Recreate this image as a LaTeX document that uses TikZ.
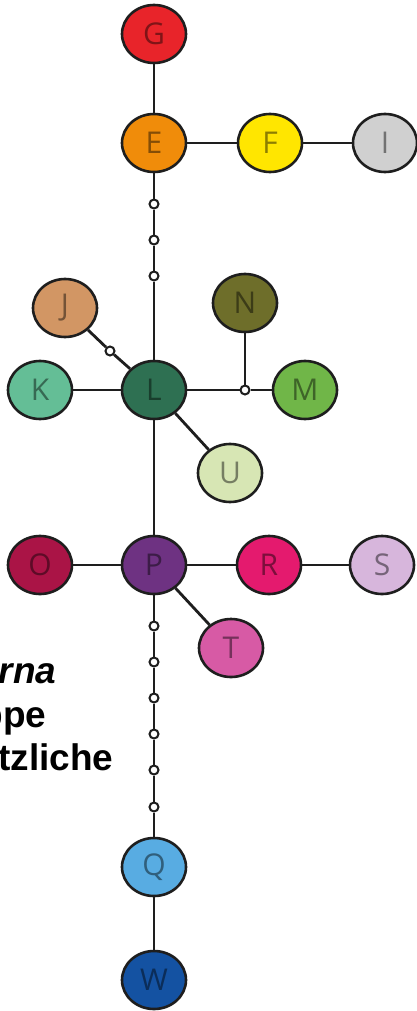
\documentclass[tikz,border=0pt]{standalone}
\usepackage{fontspec}
\setmainfont{Liberation Sans}
\newfontfamily\letterfont{Open Sans}
\usetikzlibrary{shapes.geometric}
\definecolor{cG}{RGB}{232,36,42}
\definecolor{cE}{RGB}{240,140,10}
\definecolor{cF}{RGB}{255,230,0}
\definecolor{cI}{RGB}{208,208,208}
\definecolor{cN}{RGB}{110,110,42}
\definecolor{cJ}{RGB}{210,150,100}
\definecolor{cK}{RGB}{100,190,150}
\definecolor{cL}{RGB}{46,112,82}
\definecolor{cM}{RGB}{112,182,72}
\definecolor{cU}{RGB}{215,230,180}
\definecolor{cO}{RGB}{170,20,70}
\definecolor{cP}{RGB}{110,50,130}
\definecolor{cR}{RGB}{228,26,110}
\definecolor{cS}{RGB}{215,182,220}
\definecolor{cT}{RGB}{215,90,165}
\definecolor{cQ}{RGB}{88,172,226}
\definecolor{cW}{RGB}{20,82,162}
\definecolor{edge}{RGB}{30,30,30}
\tikzset{
  nd/.style={ellipse, draw=edge, line width=2.6pt, minimum width=64pt, minimum height=58pt,
    inner sep=0pt, fill=#1, text=#1!55!black, font=\letterfont\fontsize{30}{30}\selectfont},
  jn/.style={circle, draw=edge, line width=2pt, fill=white, minimum size=9pt, inner sep=0pt},
  ln/.style={draw=edge, line width=2.8pt},
  lbl/.style={anchor=base east, text=black, font=\bfseries\fontsize{37}{43}\selectfont}
}
\begin{document}
\begin{tikzpicture}[x=1pt,y=-1pt]
\useasboundingbox (0,0) rectangle (417,1011);
\clip (0,0) rectangle (417,1011);
\fill[white] (0,0) rectangle (417,1011);
% nodes
\node[nd=cG] (G) at (154,34) {G};
\node[nd=cE] (E) at (154,143) {E};
\node[nd=cF] (F) at (270,143) {F};
\node[nd=cI] (I) at (385,143) {I};
\node[nd=cN] (N) at (245,303) {N};
\node[nd=cJ] (J) at (65,308) {J};
\node[nd=cK] (K) at (40,390) {K};
\node[nd=cL] (L) at (154,390) {L};
\node[nd=cM] (M) at (305,390) {M};
\node[nd=cU] (U) at (230,473) {U};
\node[nd=cO] (O) at (40,565) {O};
\node[nd=cP] (P) at (154,565) {P};
\node[nd=cR] (R) at (269,565) {R};
\node[nd=cS] (S) at (382,565) {S};
\node[nd=cT] (T) at (231,648) {T};
\node[nd=cQ] (Q) at (154,867) {Q};
\node[nd=cW] (W) at (154,980) {W};
% junctions
\node[jn] (a1) at (154,204) {};
\node[jn] (a2) at (154,240) {};
\node[jn] (a3) at (154,276) {};
\node[jn] (jj) at (110,351) {};
\node[jn] (jm) at (245,390) {};
\node[jn] (b1) at (154,626) {};
\node[jn] (b2) at (154,662) {};
\node[jn] (b3) at (154,698) {};
\node[jn] (b4) at (154,734) {};
\node[jn] (b5) at (154,770) {};
\node[jn] (b6) at (154,807) {};
% connectors
\path[ln] (G) -- (E);
\path[ln] (E) -- (F);
\path[ln] (F) -- (I);
\path[ln] (E) -- (a1) -- (a2) -- (a3) -- (L);
\path[ln] (J) -- (jj) -- (L);
\path[ln] (K) -- (L);
\path[ln] (L) -- (jm) -- (M);
\path[ln] (N) -- (jm);
\path[ln] (L) -- (U);
\path[ln] (L) -- (P);
\path[ln] (O) -- (P);
\path[ln] (P) -- (R);
\path[ln] (R) -- (S);
\path[ln] (P) -- (T);
\path[ln] (P) -- (b1) -- (b2) -- (b3) -- (b4) -- (b5) -- (b6) -- (Q);
\path[ln] (Q) -- (W);
% cropped text at left
\node[lbl, font=\bfseries\itshape\fontsize{37}{43}\selectfont] (t1) at (60,683) {erna};
\node[lbl] (t2) at (50,727) {ppe};
\node[lbl] (t3) at (117,770) {tzliche};
\end{tikzpicture}
\end{document}
